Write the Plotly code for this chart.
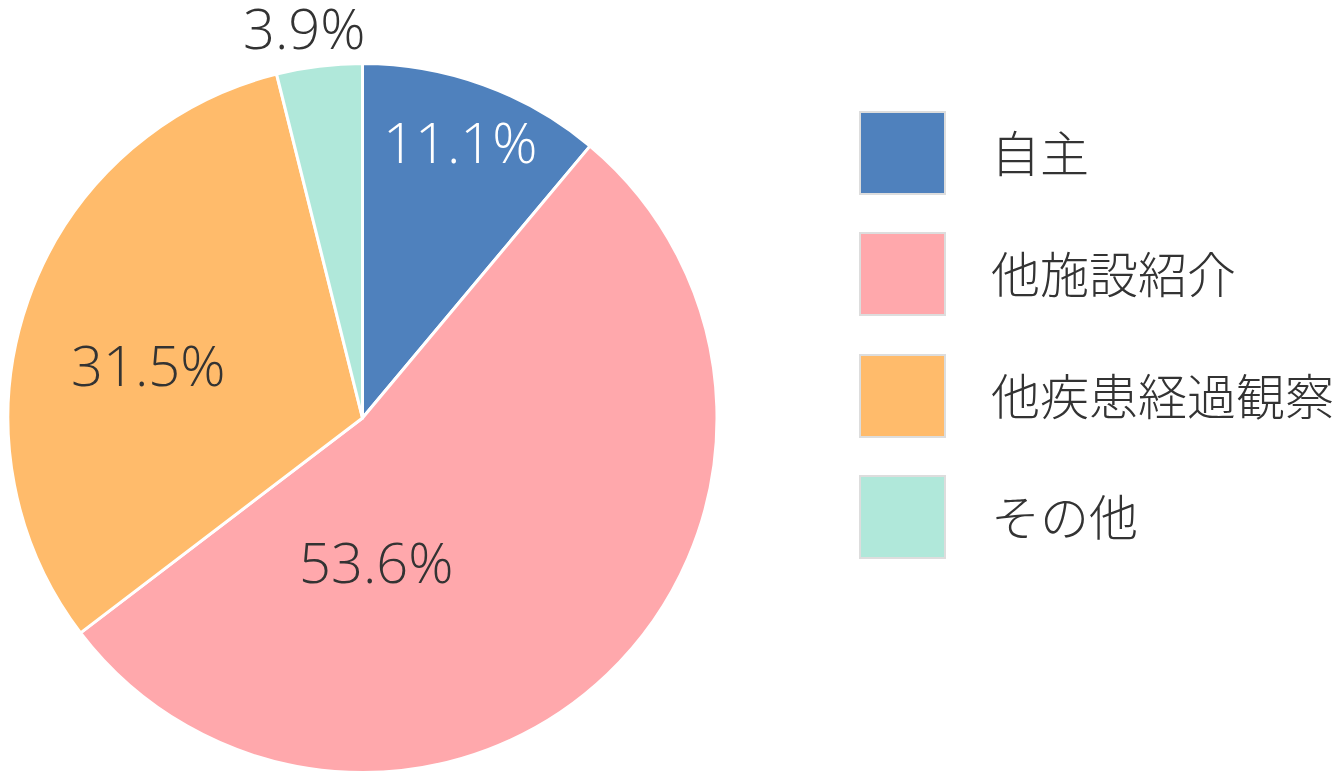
import plotly.graph_objects as go

# the page has an 8px body margin, so the figure starts at (8, 8)
OFF = 8
W, H = 1342 - OFF, 779 - OFF

labels = ["自主", "他施設紹介", "他疾患経過観察", "その他"]
values = [11.1, 53.6, 31.5, 3.9]
colors = ["#4f81bd", "#ffa8ac", "#ffbb6b", "#b0e8da"]

# where each percentage label sits (reference pixels) and its colour
label_pos = [(460, 141), (376, 561), (148, 364), (304, 27)]
label_color = ["white", "#333333", "#333333", "#333333"]

NUM_FONT = "Open Sans"
CJK_FONT = "Noto Sans CJK JP"

def px_x(x):
    return (x - OFF) / W

def px_y(y):
    return 1 - (y - OFF) / H

fig = go.Figure(go.Pie(
    labels=labels,
    values=values,
    sort=False,
    direction="clockwise",
    rotation=0,
    marker=dict(colors=colors, line=dict(color="white", width=3)),
    textinfo="none",
    hoverinfo="label+percent",
    showlegend=False,
    domain=dict(x=[0, px_x(717)], y=[px_y(774), px_y(62)]),
))

annotations = []
for v, (x, y), c in zip(values, label_pos, label_color):
    annotations.append(dict(
        x=px_x(x), y=px_y(y), xref="paper", yref="paper",
        xanchor="center", yanchor="middle",
        text=f"{v:.1f}%", showarrow=False,
        font=dict(family=NUM_FONT, size=56, color=c, weight=350),
    ))

# hand-made legend with big square swatches
shapes = []
row_top = [112, 233, 355, 476]
for lab, col, top in zip(labels, colors, row_top):
    shapes.append(dict(
        type="rect", xref="paper", yref="paper",
        x0=px_x(860), x1=px_x(945), y0=px_y(top + 82), y1=px_y(top),
        fillcolor=col, line=dict(color="#dddddd", width=2),
    ))
    annotations.append(dict(
        x=px_x(989), y=px_y(top + 38), xref="paper", yref="paper",
        xanchor="left", yanchor="middle", text=lab, showarrow=False,
        font=dict(family=CJK_FONT, size=49, color="#333333", weight=300),
    ))

fig.update_layout(
    width=W, height=H,
    margin=dict(l=0, r=0, t=0, b=0),
    paper_bgcolor="white",
    shapes=shapes,
    annotations=annotations,
)

fig.write_html("out.html")
